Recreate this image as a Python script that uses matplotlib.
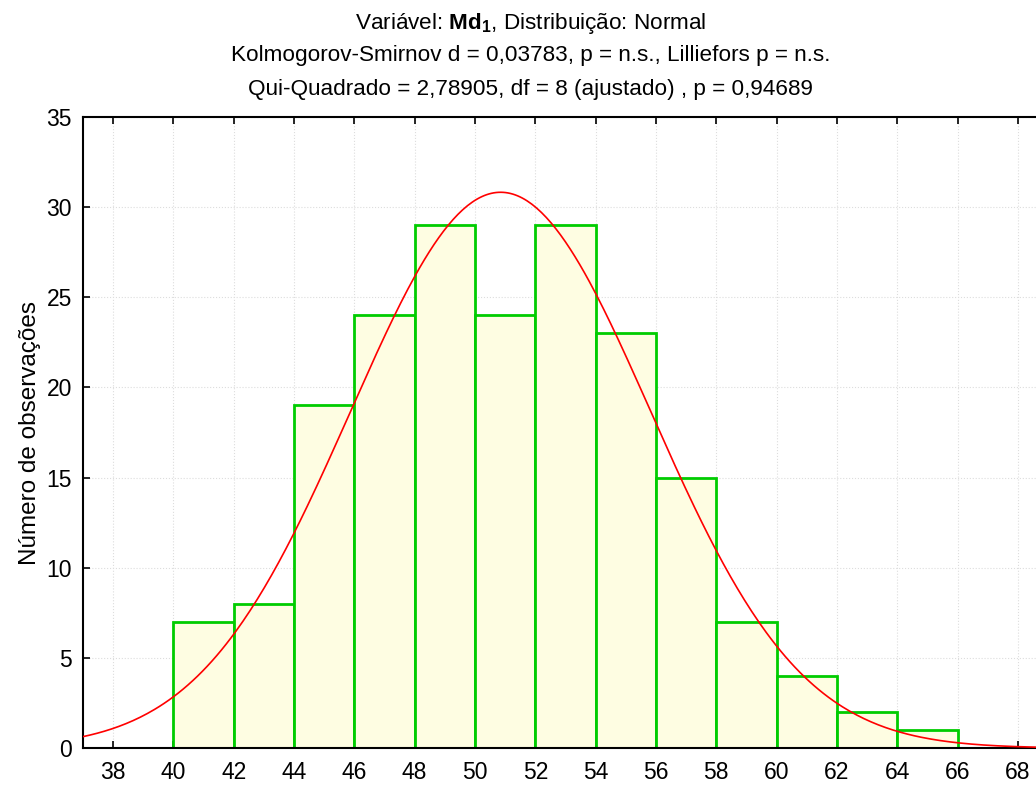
import numpy as np
import matplotlib
matplotlib.use("Agg")
import matplotlib.pyplot as plt

# histogram data
bin_edges = [40, 42, 44, 46, 48, 50, 52, 54, 56, 58, 60, 62, 64, 66]
counts = [7, 8, 19, 24, 29, 24, 29, 23, 15, 7, 4, 2, 1]

# fitted normal (peak ~30.8 at ~50.85)
fit_mean = 50.85
fit_sd = 4.97

x_ticks = [38, 40, 42, 44, 46, 48, 50, 52, 54, 56, 58, 60, 62, 64, 66, 68]
y_ticks = [0, 5, 10, 15, 20, 25, 30, 35]

title_lines = [
    r"Variável: $\mathbf{Md_1}$, Distribuição: Normal",
    "Kolmogorov-Smirnov d = 0,03783, p = n.s., Lilliefors p = n.s.",
    "Qui-Quadrado = 2,78905, df = 8 (ajustado) , p = 0,94689",
]
y_label = "Número de observações"

plt.rcParams["font.family"] = ["Liberation Sans", "DejaVu Sans"]
plt.rcParams["mathtext.fontset"] = "custom"
plt.rcParams["mathtext.rm"] = "Liberation Sans"
plt.rcParams["mathtext.bf"] = "Liberation Sans:bold"
plt.rcParams["mathtext.it"] = "Liberation Sans:italic"

fig = plt.figure(figsize=(10.36, 7.85), dpi=100)
ax = fig.add_axes([0.080, 0.047, 0.92, 0.804])

edges = np.array(bin_edges, dtype=float)
widths = np.diff(edges)
ax.bar(edges[:-1], counts, width=widths, align="edge",
       color="#fefde2", edgecolor="#00cc00", linewidth=2, zorder=2)

n_total = sum(counts)
xs = np.linspace(37, 68.6, 400)
ys = n_total * widths[0] / (fit_sd * np.sqrt(2 * np.pi)) * np.exp(-0.5 * ((xs - fit_mean) / fit_sd) ** 2)
ax.plot(xs, ys, color="#ff0000", linewidth=1.2, zorder=3)

ax.set_xlim(37, 68.6)
ax.set_ylim(0, 35)
ax.set_xticks(x_ticks)
ax.set_yticks(y_ticks)
ax.tick_params(axis="both", direction="in", labelsize=16.5, length=5, width=1.2,
               top=True, right=False)
ax.tick_params(axis="x", pad=9)
ax.tick_params(axis="y", pad=8)
ax.grid(True, linestyle=":", color="#dddddd", linewidth=0.8, zorder=0)
ax.set_axisbelow(True)
for side in ["left", "bottom", "top"]:
    ax.spines[side].set_linewidth(1.5)
ax.spines["right"].set_visible(False)

ax.set_ylabel(y_label, fontsize=17.5, labelpad=4)

for i, line in enumerate(title_lines):
    fig.text(531 / 1036, 1 - (23 + 33 * i) / 785, line, ha="center", va="center", fontsize=16.2)

fig.savefig("out.png", dpi=100)
